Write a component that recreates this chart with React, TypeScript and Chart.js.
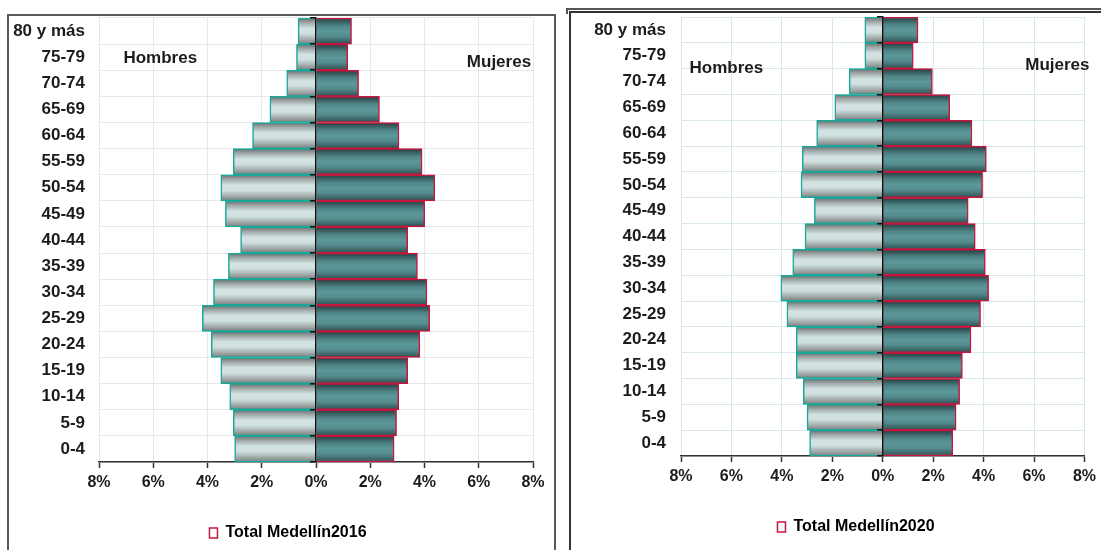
import React, { useEffect, useRef } from 'react';
import { Chart, registerables } from 'chart.js';

Chart.register(...registerables);
Chart.defaults.font.family = '"Liberation Sans", Arial, sans-serif';

// ---------- data ----------
const ageGroups = ['80 y más', '75-79', '70-74', '65-69', '60-64', '55-59', '50-54', '45-49', '40-44', '35-39', '30-34', '25-29', '20-24', '15-19', '10-14', '5-9', '0-4'];
const hombres2016 = [0.66, 0.72, 1.08, 1.70, 2.34, 3.05, 3.51, 3.34, 2.78, 3.23, 3.78, 4.19, 3.86, 3.51, 3.18, 3.05, 3.00];
const mujeres2016 = [1.31, 1.17, 1.57, 2.34, 3.06, 3.91, 4.38, 4.01, 3.38, 3.74, 4.09, 4.19, 3.83, 3.38, 3.05, 2.97, 2.88];
const hombres2020 = [0.71, 0.71, 1.33, 1.90, 2.62, 3.19, 3.24, 2.71, 3.08, 3.57, 4.04, 3.80, 3.43, 3.43, 3.15, 3.00, 2.90];
const mujeres2020 = [1.40, 1.21, 1.97, 2.66, 3.54, 4.11, 3.96, 3.39, 3.67, 4.07, 4.20, 3.88, 3.50, 3.16, 3.05, 2.91, 2.78];
const xTicks = [-8, -6, -4, -2, 0, 2, 4, 6, 8];
const legend2016 = 'Total Medellín2016';
const legend2020 = 'Total Medellín2020';
const sideHombres = 'Hombres';
const sideMujeres = 'Mujeres';

// ---------- styles ----------
const TEXT = '#1c1c1c';
const FONT = { size: 16, weight: 'bold' as const };
const YFONT = { size: 17, weight: 'bold' as const };
const HOMBRES_BORDER = '#17a899';
const MUJERES_BORDER = '#c4163f';
const hombresStops: [number, string][] = [[0, '#686c6c'], [0.18, '#a0a8a8'], [0.4, '#d3e3e3'], [0.6, '#d0dfdf'], [0.85, '#9ca3a3'], [1, '#777a7a']];
const mujeresStops: [number, string][] = [[0, '#243c3e'], [0.3, '#4f8587'], [0.5, '#5c9799'], [0.7, '#558c8e'], [1, '#2d4f50']];

function gradientFill(stops: [number, string][]) {
  return (ctx: any) => {
    const chart = ctx.chart;
    const ys = chart.scales && chart.scales.y;
    if (ctx.type !== 'data' || !ys || !chart.chartArea) return stops[2][1];
    const h = (ys.bottom - ys.top) / ageGroups.length;
    const c = ys.getPixelForValue(ctx.dataIndex);
    const g = chart.ctx.createLinearGradient(0, c - h / 2, 0, c + h / 2);
    stops.forEach(([o, col]) => g.addColorStop(o, col));
    return g;
  };
}

const sideLabelPlugin = {
  id: 'sideLabels',
  afterDatasetsDraw(chart: any, _args: any, opts: any) {
    const { ctx, scales } = chart;
    ctx.save();
    ctx.font = 'bold 17px "Liberation Sans", Arial, sans-serif';
    ctx.fillStyle = TEXT;
    ctx.textBaseline = 'middle';
    for (const l of opts.items || []) {
      ctx.textAlign = l.align;
      ctx.fillText(l.text, scales.x.getPixelForValue(l.x), scales.y.getPixelForValue(l.y));
    }
    ctx.restore();
  },
};

type PyramidCfg = {
  hombres: number[];
  mujeres: number[];
  legendText: string;
  gridColor: string;
  padding: { left: number; right: number; top: number; bottom: number };
  yWidth: number;
  yPad: number;
  xHeight: number;
  labels: { text: string; x: number; y: number; align: string }[];
  width: number;
  height: number;
};

function Pyramid({ cfg }: { cfg: PyramidCfg }) {
  const ref = useRef<HTMLCanvasElement>(null);
  useEffect(() => {
    const chart = new Chart(ref.current!, {
      type: 'bar',
      data: {
        labels: ageGroups,
        datasets: [
          {
            label: sideHombres,
            data: cfg.hombres.map((v) => -v),
            backgroundColor: gradientFill(hombresStops) as any,
            borderColor: HOMBRES_BORDER,
            borderWidth: 1.5,
            borderSkipped: 'start',
            barPercentage: 1,
            categoryPercentage: 1,
          },
          {
            label: cfg.legendText,
            data: cfg.mujeres,
            backgroundColor: gradientFill(mujeresStops) as any,
            borderColor: MUJERES_BORDER,
            borderWidth: 1.5,
            borderSkipped: 'start',
            barPercentage: 1,
            categoryPercentage: 1,
          },
        ],
      },
      plugins: [sideLabelPlugin as any],
      options: {
        indexAxis: 'y',
        animation: false,
        responsive: true,
        maintainAspectRatio: false,
        layout: { padding: cfg.padding },
        scales: {
          x: {
            stacked: true,
            min: -8,
            max: 8,
            afterBuildTicks: (s: any) => {
              s.ticks = xTicks.map((v) => ({ value: v }));
            },
            ticks: {
              callback: (v: any) => Math.abs(Number(v)) + '%',
              font: FONT,
              color: TEXT,
              padding: 5,
              maxRotation: 0,
              autoSkip: false,
            },
            grid: { color: cfg.gridColor, lineWidth: 1, tickLength: 6, tickColor: '#333', tickWidth: 1.5 },
            border: { display: true, color: '#333', width: 1.5 },
            afterFit: (s: any) => {
              s.height = cfg.xHeight;
            },
          },
          y: {
            type: 'category',
            stacked: true,
            offset: true,
            grid: { offset: true, color: cfg.gridColor, lineWidth: 1, drawTicks: false },
            border: { display: false },
            ticks: { font: YFONT, color: TEXT, padding: cfg.yPad, autoSkip: false },
            afterFit: (s: any) => {
              s.width = cfg.yWidth;
              s.paddingTop = 0;
              s.paddingBottom = 0;
              // let the age labels extend past the (narrow) axis box instead of being clipped
              s._computeLabelArea = () => undefined;
            },
          },
          yc: {
            axis: 'y',
            type: 'category',
            position: { x: 0 } as any,
            offset: true,
            grid: { offset: true, drawOnChartArea: false, drawTicks: true, tickLength: 5, color: '#111', lineWidth: 1.5, z: 1 },
            border: { display: true, color: '#111', width: 1.5, z: 1 },
            ticks: { display: false },
            afterFit: (s: any) => {
              s.width = 0;
              s.paddingTop = 0;
              s.paddingBottom = 0;
            },
          } as any,
        },
        plugins: {
          legend: {
            position: 'bottom',
            labels: {
              boxWidth: 8,
              boxHeight: 10,
              padding: 4,
              font: FONT,
              color: TEXT,
              generateLabels: () => [
                {
                  text: cfg.legendText,
                  fillStyle: '#ffffff',
                  strokeStyle: MUJERES_BORDER,
                  lineWidth: 1.5,
                  hidden: false,
                  datasetIndex: 1,
                } as any,
              ],
            },
          },
          tooltip: { enabled: false },
          sideLabels: { items: cfg.labels },
        } as any,
      },
    });
    return () => chart.destroy();
  }, [cfg]);
  return (
    <div style={{ position: 'absolute', left: 0, top: 0, width: cfg.width, height: cfg.height }}>
      <canvas ref={ref} />
    </div>
  );
}

const cfg2016: PyramidCfg = {
  hombres: hombres2016,
  mujeres: mujeres2016,
  legendText: legend2016,
  gridColor: '#e8e8e8',
  padding: { left: 34, right: 21, top: 2, bottom: 1 },
  yWidth: 56,
  yPad: 14,
  xHeight: 59,
  labels: [
    { text: sideHombres, x: -7.1, y: 1.03, align: 'left' },
    { text: sideMujeres, x: 7.93, y: 1.19, align: 'right' },
  ],
  width: 545,
  height: 536,
};

const cfg2020: PyramidCfg = {
  hombres: hombres2020,
  mujeres: mujeres2020,
  legendText: legend2020,
  gridColor: '#d8e8e8',
  padding: { left: 53, right: 13, top: 4, bottom: 5 },
  yWidth: 57,
  yPad: 15,
  xHeight: 59,
  labels: [
    { text: sideHombres, x: -7.66, y: 1.47, align: 'left' },
    { text: sideMujeres, x: 8.2, y: 1.36, align: 'right' },
  ],
  width: 530,
  height: 537,
};

export default function App() {
  return (
    <div>
      <div
        style={{
          position: 'absolute', left: 7, top: 14, width: 549, height: 536, boxSizing: 'border-box',
          borderTop: '2px solid #5a5a5a', borderLeft: '2px solid #5a5a5a', borderRight: '2px solid #5a5a5a',
          overflow: 'hidden', background: '#fff',
        }}
      >
        <Pyramid cfg={cfg2016} />
      </div>
      <div
        style={{
          position: 'absolute', left: 566, top: 8, width: 535, height: 6, boxSizing: 'border-box',
          borderTop: '2px solid #555', borderLeft: '2px solid #555',
        }}
      />
      <div
        style={{
          position: 'absolute', left: 569, top: 11, width: 532, height: 539, boxSizing: 'border-box',
          borderTop: '2px solid #333', borderLeft: '2px solid #333', overflow: 'hidden', background: '#fff',
        }}
      >
        <Pyramid cfg={cfg2020} />
      </div>
    </div>
  );
}
